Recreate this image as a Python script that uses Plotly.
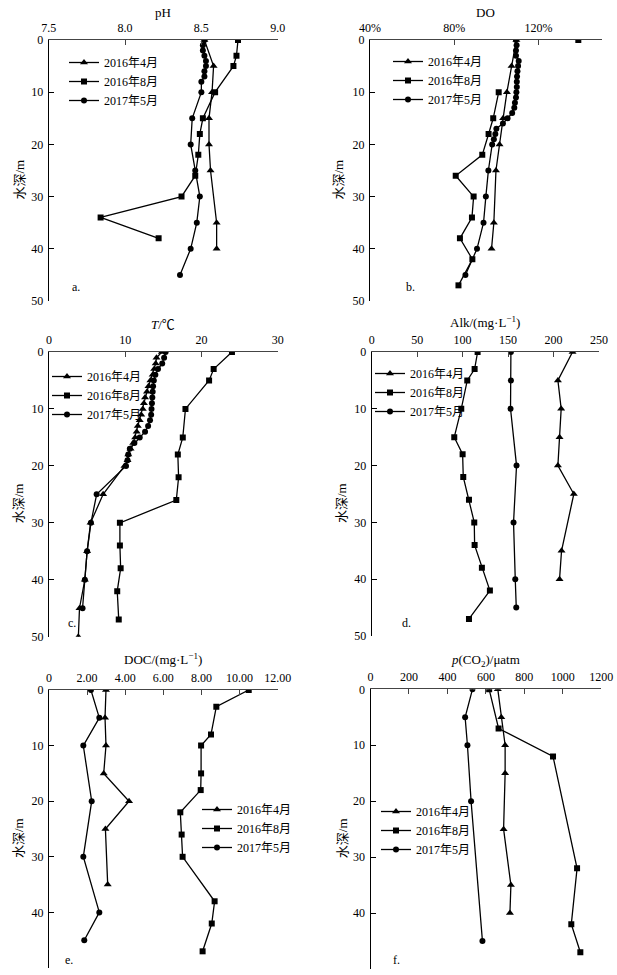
import plotly.graph_objects as go

W, H = 617, 975
FONT = "Liberation Serif, 'Noto Sans CJK SC', serif"

series_names = ["2016年4月", "2016年8月", "2017年5月"]
symbols = ["triangle-up", "square", "circle"]
marker_sizes = [7, 6, 6]

# a. pH
ph_apr_depth = [0, 5, 10, 15, 20, 25, 35, 40]
ph_apr = [8.52, 8.58, 8.57, 8.55, 8.55, 8.56, 8.60, 8.60]
ph_aug_depth = [0, 3, 5, 10, 15, 18, 22, 26, 30, 34, 38]
ph_aug = [8.74, 8.73, 8.71, 8.59, 8.51, 8.49, 8.48, 8.46, 8.37, 7.84, 8.22]
ph_may_depth = [0, 1, 2, 3, 4, 5, 6, 7, 8, 10, 15, 20, 25, 30, 35, 40, 45]
ph_may = [8.52, 8.51, 8.51, 8.52, 8.53, 8.53, 8.52, 8.52, 8.50, 8.50, 8.44, 8.43, 8.46, 8.49, 8.47, 8.43, 8.36]

# b. DO (%)
do_apr_depth = [0, 5, 10, 15, 20, 25, 35, 40]
do_apr = [109.5, 107.2, 105.0, 103.2, 101.5, 99.8, 98.8, 97.7]
do_aug_depth = [0, 5, 10, 15, 18, 22, 26, 30, 34, 38, 42, 47]
do_aug = [138.9, None, 101.1, 98.5, 96.3, 93.3, 80.7, 89.2, 88.4, 82.7, 88.6, 82.0]
do_may_depth = list(range(0, 21)) + [25, 30, 35, 40, 45]
do_may = [109.3, 109.6, 109.3, 109.3, 110.6, 110.3, 110.0, 109.8, 109.7, 109.7, 109.5,
          109.3, 108.8, 108.5, 107.5, 105.3, 103.1, 100.0, 99.5, 98.8, 98.0,
          96.2, 95.0, 93.9, 90.8, 85.3]

# c. T (°C)
t_apr_depth = list(range(0, 21)) + [25, 30, 35, 40, 45, 50]
t_apr = [14.8, 14.1, 14.0, 13.8, 13.6, 13.3, 13.05, 12.85, 12.6, 12.45, 12.3,
         12.1, 11.9, 11.65, 11.5, 11.3, 11.05, 10.7, 10.4, 10.3, 9.9,
         7.1, 5.45, 5.0, 4.7, 4.0, 3.85]
t_aug_depth = [0, 3, 5, 10, 15, 18, 22, 26, 30, 34, 38, 42, 47]
t_aug = [24.0, 21.6, 21.0, 17.9, 17.55, 16.9, 17.0, 16.7, 9.3, 9.3, 9.4, 8.95, 9.15]
t_may_depth = list(range(0, 21)) + [25, 30, 35, 40, 45]
t_may = [15.3, 15.1, 14.85, 14.3, 13.95, 13.75, 13.65, 13.6, 13.55, 13.5, 13.45,
         13.4, 13.25, 13.0, 12.6, 11.9, 11.2, 10.6, 10.4, 10.3, 10.1,
         6.25, 5.5, 5.0, 4.7, 4.4]

# d. Alk (mg/L)
alk_apr_depth = [0, 5, 10, 15, 20, 25, 35, 40]
alk_apr = [220.9, 204.8, 208.4, 206.6, 204.8, 222.3, 208.8, 206.6]
alk_aug_depth = [0, 3, 5, 10, 15, 18, 22, 26, 30, 34, 38, 42, 47]
alk_aug = [116.5, 113.2, 105.1, 98.5, 90.8, 100.0, 100.7, 107.0, 112.8, 113.2, 121.2, 130.0, 107.0]
alk_may_depth = [0, 5, 10, 20, 30, 40, 45]
alk_may = [153.1, 153.1, 152.7, 159.3, 156.0, 157.9, 159.0]

# e. DOC (mg/L)
doc_apr_depth = [0, 5, 10, 15, 20, 25, 35]
doc_apr = [2.99, 2.94, 2.99, 2.87, 4.20, 2.96, 3.08]
doc_aug_depth = [0, 3, 8, 10, 15, 18, 22, 26, 30, 38, 42, 47]
doc_aug = [10.48, 8.78, 8.50, 7.98, 7.98, 7.96, 6.89, 6.96, 7.01, 8.69, 8.54, 8.06]
doc_may_depth = [0, 5, 10, 20, 30, 40, 45]
doc_may = [2.20, 2.64, 1.80, 2.24, 1.80, 2.64, 1.85]

# f. pCO2 (μatm)
co2_apr_depth = [0, 5, 10, 15, 25, 35, 40]
co2_apr = [662, 680, 700, 700, 692, 730, 725]
co2_aug_depth = [0, 7, 12, 32, 42, 47]
co2_aug = [617, 666, 949, 1074, 1044, 1091]
co2_may_depth = [0, 5, 10, 20, 45]
co2_may = [530, 492, 504, 523, 582]

depth_ticks = [0, 10, 20, 30, 40, 50]
do_tickvals = [40, 80, 120]
do_ticktext = ["40%", "80%", "120%"]
doc_tickvals = [0, 2, 4, 6, 8, 10, 12]
doc_ticktext = ["0", "2.00", "4.00", "6.00", "8.00", "10.00", "12.00"]


def px_x(p):
    return p / W


def px_y(p):
    return 1 - p / H


# title, data, x axis settings, plot box (px), legend top-left (px), label pos, title y, y-title x
panels = [
    ("pH", [(ph_apr, ph_apr_depth), (ph_aug, ph_aug_depth), (ph_may, ph_may_depth)],
     dict(range=[7.5, 9.0], dtick=0.5, tickformat=".1f"),
     (48.7, 277.7, 40, 301), (64, 48), (70, 287), 12, 19),
    ("DO", [(do_apr, do_apr_depth), (do_aug, do_aug_depth), (do_may, do_may_depth)],
     dict(range=[40, 150], tickvals=do_tickvals, ticktext=do_ticktext),
     (370, 601.7, 40, 301), (388, 47), (404, 287), 12, 338),
    ("<i>T</i>/℃", [(t_apr, t_apr_depth), (t_aug, t_aug_depth), (t_may, t_may_depth)],
     dict(range=[0, 30], dtick=10),
     (49, 277.7, 352, 636.7), (47, 362), (66, 623), 325, 18),
    ("Alk/(mg·L<sup>−1</sup>)", [(alk_apr, alk_apr_depth), (alk_aug, alk_aug_depth), (alk_may, alk_may_depth)],
     dict(range=[0, 250], dtick=50),
     (371.7, 599, 352, 636), (370, 359), (400, 623), 322, 342),
    ("DOC/(mg·L<sup>−1</sup>)", [(doc_apr, doc_apr_depth), (doc_aug, doc_aug_depth), (doc_may, doc_may_depth)],
     dict(range=[0, 12], tickvals=doc_tickvals, ticktext=doc_ticktext),
     (49, 277.7, 690, 968), (197, 795), (63, 960), 659, 18),
    ("<i>p</i>(CO<sub>2</sub>)/μatm", [(co2_apr, co2_apr_depth), (co2_aug, co2_aug_depth), (co2_may, co2_may_depth)],
     dict(range=[0, 1200], dtick=200),
     (370.5, 601.3, 689.3, 969), (376, 797), (391, 960), 660, 342),
]

fig = go.Figure()
layout = {}
annotations = []
for i, (title, data, xset, box, leg, lab, title_y, ytitle_x) in enumerate(panels):
    n = i + 1
    xa = "x" if n == 1 else "x%d" % n
    ya = "y" if n == 1 else "y%d" % n
    lg = "legend" if n == 1 else "legend%d" % n
    for k, (vals, depths) in enumerate(data):
        fig.add_trace(go.Scatter(
            x=vals, y=depths, name=series_names[k], mode="lines+markers",
            line=dict(color="black", width=1.3),
            marker=dict(symbol=symbols[k], size=marker_sizes[k], color="black"),
            xaxis=xa, yaxis=ya, legend=lg, connectgaps=False))

    x0, x1, y0, y1 = box
    layout["xaxis%d" % n] = dict(
        domain=[px_x(x0), px_x(x1)], anchor=ya, side="top", automargin=False,
        showline=True, linecolor="#444", linewidth=1.3, ticks="inside", ticklen=5,
        tickcolor="#444", showgrid=False, zeroline=False, ticklabelstandoff=2,
        tickfont=dict(size=12, color="black"), **xset)
    layout["yaxis%d" % n] = dict(
        domain=[px_y(y1), px_y(y0)], anchor=xa, range=[50, 0], tickvals=depth_ticks,
        automargin=False, ticklabelstandoff=2,
        showline=True, linecolor="black", linewidth=1.3, ticks="inside", ticklen=5,
        tickcolor="black", showgrid=False, zeroline=False,
        tickfont=dict(size=12, color="black"))
    layout[lg] = dict(
        x=px_x(leg[0]), y=px_y(leg[1]), xanchor="left", yanchor="top",
        bgcolor="rgba(0,0,0,0)", font=dict(size=12, color="black"),
        itemwidth=30, tracegroupgap=0)
    # top axis title
    annotations.append(dict(text=title, x=(px_x(x0) + px_x(x1)) / 2, y=px_y(title_y),
                            xref="paper", yref="paper", showarrow=False,
                            xanchor="center", yanchor="middle",
                            font=dict(size=13, color="black")))
    # depth axis title
    annotations.append(dict(text="水深/m", x=px_x(ytitle_x), y=px_y((y0 + y1) / 2 + 9),
                            xref="paper", yref="paper", showarrow=False, textangle=-90,
                            xanchor="center", yanchor="middle",
                            font=dict(size=13, color="black")))
    annotations.append(dict(text=["a.", "b.", "c.", "d.", "e.", "f."][i],
                            x=px_x(lab[0]), y=px_y(lab[1]), xref="paper", yref="paper",
                            xanchor="left", yanchor="middle", showarrow=False,
                            font=dict(size=12, color="black")))

fig.update_layout(
    width=W, height=H, margin=dict(l=0, r=0, t=0, b=0),
    plot_bgcolor="white", paper_bgcolor="white",
    font=dict(family=FONT, color="black"),
    annotations=annotations, **layout)

# drop the page's default body margin so the figure fills the window exactly
fig.write_html("out.html", config={"displayModeBar": False},
               post_script="document.body.style.margin='0';document.body.style.overflow='hidden';")
